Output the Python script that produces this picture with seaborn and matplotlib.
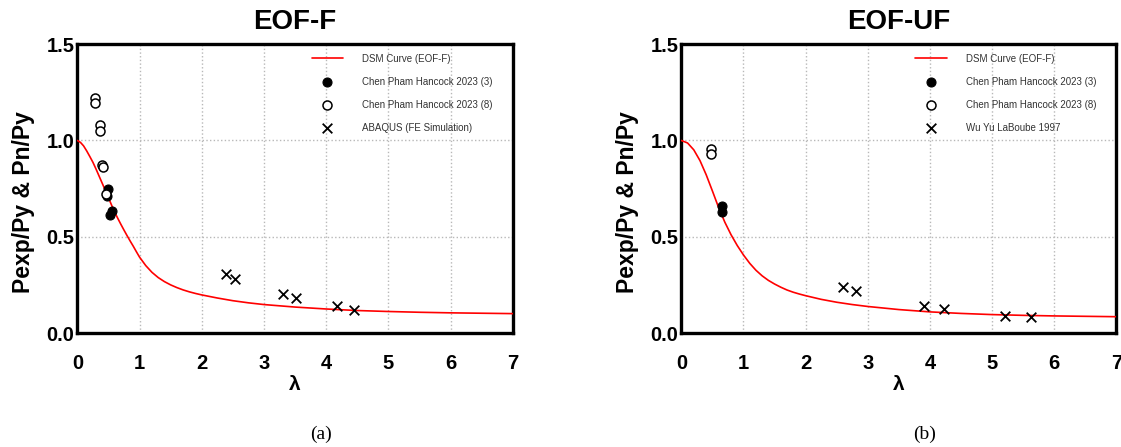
import numpy as np
import pandas as pd
import seaborn as sns
import matplotlib
matplotlib.use("Agg")
import matplotlib.pyplot as plt

# ---- data ----
# panel (a) EOF-F
dsm_f_lam = [0.0, 0.05, 0.1, 0.15, 0.2, 0.25, 0.3, 0.35, 0.4, 0.45, 0.5, 0.55, 0.6, 0.65,
             0.7, 0.75, 0.8, 0.85, 0.9, 0.95, 1.0, 1.1, 1.2, 1.3, 1.4, 1.5, 1.6, 1.7, 1.8,
             1.9, 2.0, 2.25, 2.5, 2.75, 3.0, 3.5, 4.0, 4.5, 5.0, 5.5, 6.0, 6.5, 7.0]
dsm_f_val = [1.0, 0.990, 0.972, 0.946, 0.917, 0.887, 0.852, 0.815, 0.778, 0.741, 0.703, 0.665,
             0.629, 0.596, 0.565, 0.535, 0.506, 0.478, 0.451, 0.4225, 0.395, 0.351, 0.316,
             0.289, 0.268, 0.251, 0.237, 0.225, 0.215, 0.2065, 0.199, 0.183, 0.169, 0.158,
             0.149, 0.136, 0.126, 0.118, 0.113, 0.109, 0.106, 0.104, 0.102]
f_chen3_lam = [0.49, 0.48, 0.56, 0.53]
f_chen3_val = [0.75, 0.71, 0.635, 0.615]
f_chen8_lam = [0.28, 0.28, 0.36, 0.36, 0.40, 0.41, 0.46]
f_chen8_val = [1.22, 1.195, 1.08, 1.05, 0.875, 0.865, 0.72]
f_fe_lam = [2.39, 2.53, 3.30, 3.52, 4.17, 4.44]
f_fe_val = [0.31, 0.28, 0.202, 0.183, 0.142, 0.121]

# panel (b) EOF-UF
dsm_uf_lam = [0.0, 0.1, 0.2, 0.3, 0.4, 0.5, 0.6, 0.7, 0.8, 0.9, 1.0, 1.1, 1.2, 1.3, 1.4,
              1.5, 1.6, 1.7, 1.8, 1.9, 2.0, 2.25, 2.5, 2.75, 3.0, 3.5, 4.0, 4.5, 5.0,
              5.5, 6.0, 6.5, 7.0]
dsm_uf_val = [1.0, 0.987, 0.9515, 0.8955, 0.822, 0.738, 0.652, 0.576, 0.511, 0.455, 0.406,
              0.363, 0.327, 0.298, 0.2745, 0.2555, 0.239, 0.2245, 0.213, 0.2035, 0.195,
              0.176, 0.161, 0.149, 0.139, 0.123, 0.111, 0.103, 0.097, 0.093, 0.090,
              0.088, 0.086]
uf_chen3_lam = [0.66, 0.655]
uf_chen3_val = [0.66, 0.627]
uf_chen8_lam = [0.48, 0.48]
uf_chen8_val = [0.955, 0.932]
uf_wu_lam = [2.60, 2.81, 3.90, 4.22, 5.20, 5.62]
uf_wu_val = [0.242, 0.218, 0.14, 0.128, 0.092, 0.083]

x_ticks = [0, 1, 2, 3, 4, 5, 6, 7]
y_ticks = [0.0, 0.5, 1.0, 1.5]
y_tick_labels = ['0.0', '0.5', '1.0', '1.5']

sns.set_style("white")
plt.rcParams['font.family'] = ['Liberation Sans', 'DejaVu Sans']
plt.rcParams['text.color'] = 'black'
plt.rcParams['axes.labelcolor'] = 'black'
plt.rcParams['xtick.color'] = 'black'
plt.rcParams['ytick.color'] = 'black'

fig = plt.figure(figsize=(11.21, 4.47), dpi=100)
ax1 = fig.add_axes([0.069, 0.2544, 0.3884, 0.647])
ax2 = fig.add_axes([0.6078, 0.2544, 0.3881, 0.647])


def draw_panel(ax, title, dsm_l, dsm_v, c3_l, c3_v, c8_l, c8_v, x_l, x_v, x_name, tag):
    sns.lineplot(x=dsm_l, y=dsm_v, ax=ax, color='#ff0000', lw=1.2, sort=False,
                 estimator=None, label='DSM Curve (EOF-F)', zorder=3)
    sns.scatterplot(x=c3_l, y=c3_v, ax=ax, marker='o', s=42, color='black',
                    edgecolor='black', linewidth=0.8, label='Chen Pham Hancock 2023 (3)', zorder=4)
    sns.scatterplot(x=c8_l, y=c8_v, ax=ax, marker='o', s=42, facecolor='white',
                    edgecolor='black', linewidth=1.1, label='Chen Pham Hancock 2023 (8)', zorder=4)
    sns.scatterplot(x=x_l, y=x_v, ax=ax, marker='x', s=48, color='black',
                    linewidth=1.3, label=x_name, zorder=4)

    ax.set_xlim(0, 7)
    ax.set_ylim(0, 1.5)
    ax.set_xticks(x_ticks)
    ax.set_yticks(y_ticks)
    ax.set_yticklabels(y_tick_labels)
    ax.grid(True, color='#b8b8b8', linestyle=':', linewidth=1.0)
    ax.tick_params(length=0, labelsize=14.5)
    ax.tick_params(axis='x', pad=15)
    ax.tick_params(axis='y', pad=2)
    for lab in ax.get_xticklabels() + ax.get_yticklabels():
        lab.set_fontweight('bold')
    for sp in ax.spines.values():
        sp.set_visible(True)
        sp.set_color('black')
        sp.set_linewidth(2.4)

    ax.set_title(title, fontsize=20, fontweight='bold', pad=11)
    ax.set_xlabel('λ', fontsize=15, fontweight='bold')
    ax.xaxis.set_label_coords(0.5, -0.145)
    ax.set_ylabel('Pexp/Py & Pn/Py', fontsize=16.5, fontweight='bold')
    ax.yaxis.set_label_coords(-0.098, 0.455)

    leg = ax.legend(loc='upper left', bbox_to_anchor=(0.538, 0.967), frameon=False,
                    fontsize=7, handlelength=3.2, handletextpad=2.0,
                    labelspacing=1.35, borderpad=0, borderaxespad=0)
    for t in leg.get_texts():
        t.set_color('#333333')

    ax.text(0.56, -0.35, tag, transform=ax.transAxes, ha='center', va='center',
            fontsize=14, family='Liberation Serif')


draw_panel(ax1, 'EOF-F', dsm_f_lam, dsm_f_val, f_chen3_lam, f_chen3_val,
           f_chen8_lam, f_chen8_val, f_fe_lam, f_fe_val, 'ABAQUS (FE Simulation)', '(a)')
draw_panel(ax2, 'EOF-UF', dsm_uf_lam, dsm_uf_val, uf_chen3_lam, uf_chen3_val,
           uf_chen8_lam, uf_chen8_val, uf_wu_lam, uf_wu_val, 'Wu Yu LaBoube 1997', '(b)')

fig.savefig('out.png', dpi=100)
